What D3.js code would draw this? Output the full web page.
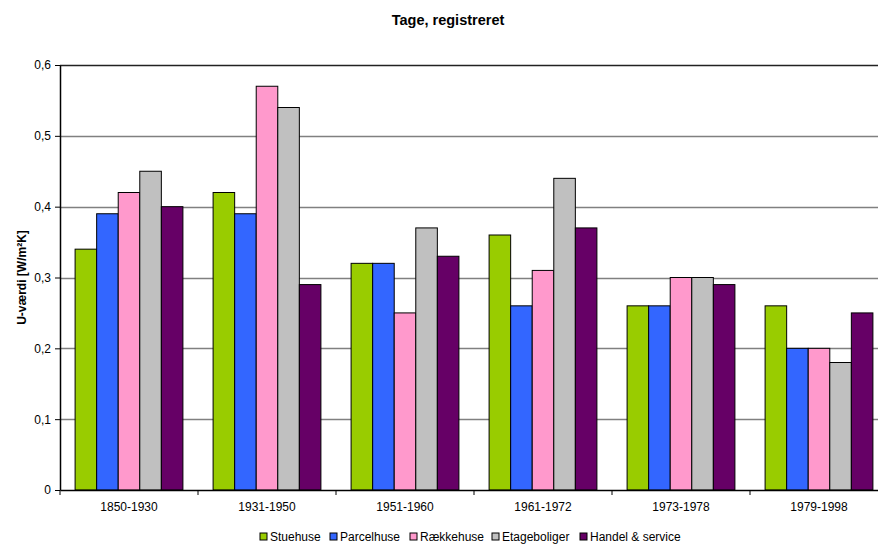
<!DOCTYPE html>
<html>
<head>
<meta charset="utf-8">
<script src="https://cdn.jsdelivr.net/npm/d3@7"></script>
<style>
  body { margin: 0; background: #fff; }
  svg { display: block; font-family: "Liberation Sans", Arial, sans-serif; }
</style>
</head>
<body>
<svg id="chart" width="878" height="545"></svg>
<script>
// data
const periods = ["1850-1930", "1931-1950", "1951-1960", "1961-1972", "1973-1978", "1979-1998"];
const seriesNames = ["Stuehuse", "Parcelhuse", "Rækkehuse", "Etageboliger", "Handel & service"];
const stuehuse = [0.34, 0.42, 0.32, 0.36, 0.26, 0.26];
const parcelhuse = [0.39, 0.39, 0.32, 0.26, 0.26, 0.20];
const raekkehuse = [0.42, 0.57, 0.25, 0.31, 0.30, 0.20];
const etageboliger = [0.45, 0.54, 0.37, 0.44, 0.30, 0.18];
const handel = [0.40, 0.29, 0.33, 0.37, 0.29, 0.25];
const yTicks = [0, 0.1, 0.2, 0.3, 0.4, 0.5, 0.6];

const seriesValues = [stuehuse, parcelhuse, raekkehuse, etageboliger, handel];
const colors = ["#99CC00", "#3366FF", "#FF99CC", "#C0C0C0", "#660066"];

const svg = d3.select("#chart");
const plot = { left: 60, right: 888, top: 65, bottom: 490 }; // plot runs past the right edge, as in the original crop

const x = d3.scaleBand().domain(periods).range([plot.left, plot.right]);
const xInner = d3.scaleBand().domain(seriesNames)
    .range([0, x.bandwidth()]).paddingOuter(0.7);
const y = d3.scaleLinear().domain([0, 0.6]).range([plot.bottom, plot.top]);

const fmt = v => v === 0 ? "0" : d3.format(".1f")(v).replace(".", ",");

// title
svg.append("text")
    .attr("x", 448).attr("y", 25)
    .attr("text-anchor", "middle")
    .style("font-size", "14.5px").style("font-weight", "bold")
    .text("Tage, registreret");

// gridlines
svg.append("g").selectAll("line")
    .data(yTicks.filter(d => d > 0))
    .enter().append("line")
    .attr("x1", plot.left).attr("x2", plot.right)
    .attr("y1", d => Math.round(y(d)) + 0.5).attr("y2", d => Math.round(y(d)) + 0.5)
    .attr("stroke", d => d === 0.6 ? "#222" : "#808080")
    .attr("stroke-width", 1.3);

// bars
const flat = [];
periods.forEach((p, i) => {
    seriesNames.forEach((s, j) => flat.push({ period: p, series: s, value: seriesValues[j][i], color: colors[j] }));
});

svg.append("g").selectAll("rect")
    .data(flat)
    .enter().append("rect")
    .attr("x", d => x(d.period) + xInner(d.series))
    .attr("y", d => y(d.value))
    .attr("width", xInner.bandwidth())
    .attr("height", d => plot.bottom - y(d.value))
    .attr("fill", d => d.color)
    .attr("stroke", "#000")
    .attr("stroke-width", 1);

// y axis
const yAxis = svg.append("g")
    .attr("transform", `translate(${plot.left},0)`)
    .call(d3.axisLeft(y).tickValues(yTicks).tickFormat(fmt).tickSize(5).tickSizeOuter(0));
yAxis.select(".domain").attr("stroke", "#000").attr("stroke-width", 1.5);
yAxis.selectAll(".tick line").attr("stroke", "#000");
yAxis.selectAll("text").style("font-size", "12px").attr("fill", "#000").attr("x", -9);

// x axis
const xAxis = svg.append("g")
    .attr("transform", `translate(0,${plot.bottom})`)
    .call(d3.axisBottom(x).tickSize(0).tickSizeOuter(0));
xAxis.select(".domain").attr("stroke", "#000").attr("stroke-width", 1.5);
xAxis.selectAll("text").style("font-size", "12px").attr("fill", "#000").attr("y", 12).attr("dy", "0.71em");
xAxis.selectAll(".bnd").data(d3.range(periods.length + 1))
    .enter().append("line")
    .attr("x1", i => plot.left + i * x.bandwidth()).attr("x2", i => plot.left + i * x.bandwidth())
    .attr("y1", 0).attr("y2", 5)
    .attr("stroke", "#000");

// y label
svg.append("text")
    .attr("transform", `translate(26,${(plot.top + plot.bottom) / 2}) rotate(-90)`)
    .attr("text-anchor", "middle")
    .style("font-size", "12px").style("font-weight", "bold")
    .text("U-værdi [W/m²K]");

// legend
const legendX = [260, 330, 410, 492, 580];
const legend = svg.append("g").selectAll("g")
    .data(seriesNames)
    .enter().append("g")
    .attr("transform", (d, i) => `translate(${legendX[i]},537)`);
legend.append("rect")
    .attr("x", 0).attr("y", -4)
    .attr("width", 7).attr("height", 7)
    .attr("fill", (d, i) => colors[i])
    .attr("stroke", "#000");
legend.append("text")
    .attr("x", 10).attr("y", 4)
    .style("font-size", "12px")
    .text(d => d);
</script>
</body>
</html>
